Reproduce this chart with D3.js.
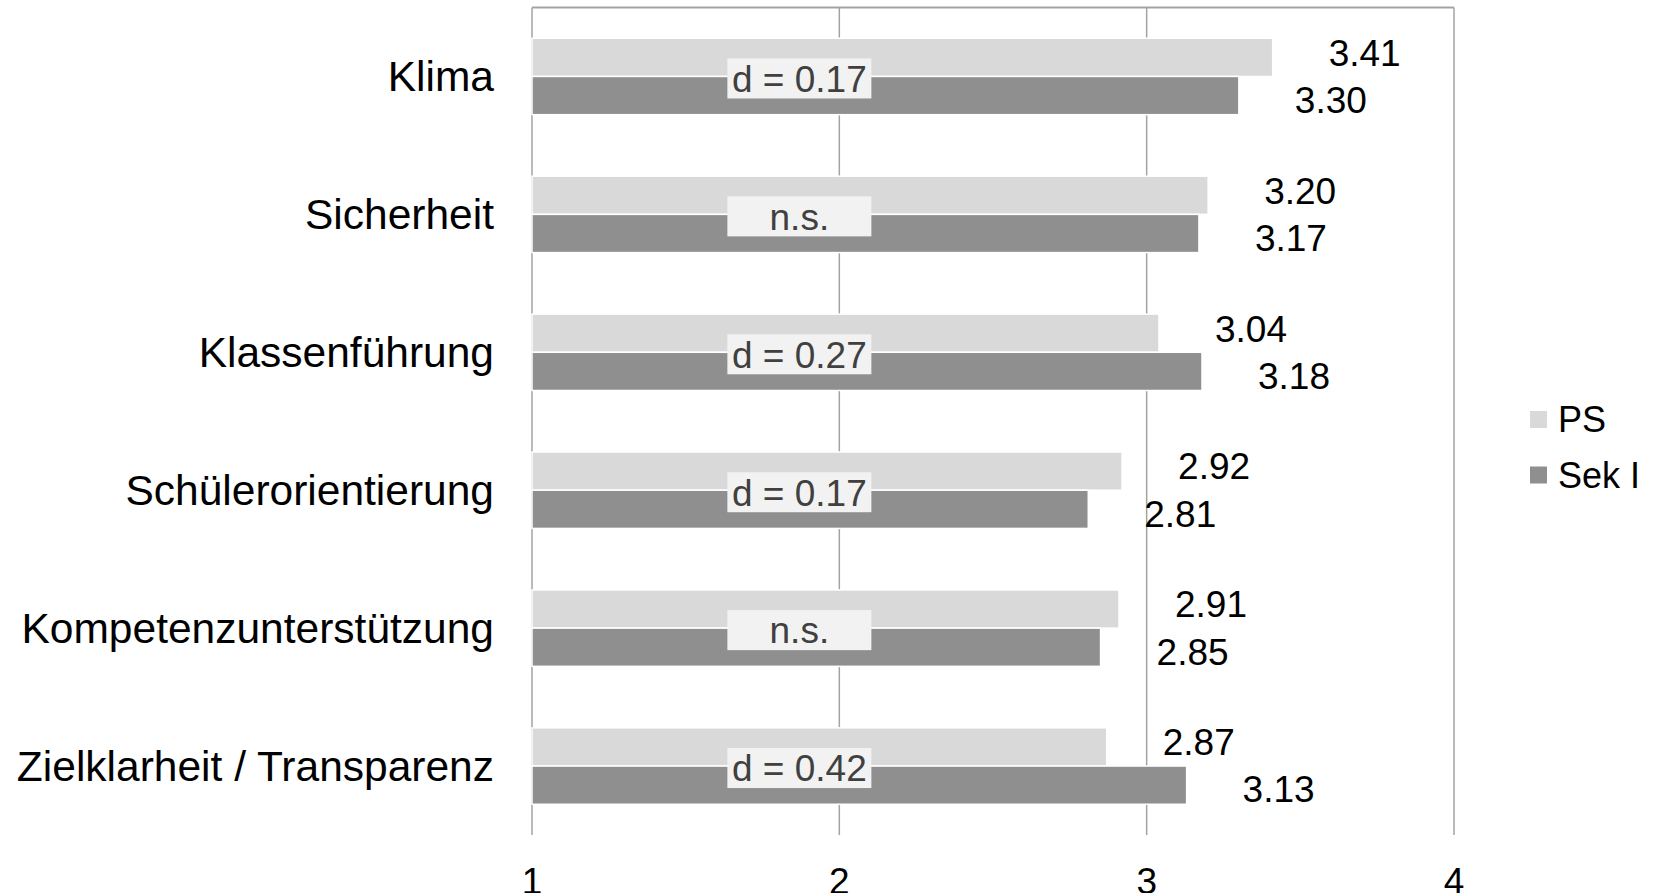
<!DOCTYPE html>
<html>
<head>
<meta charset="utf-8">
<script src="https://cdn.jsdelivr.net/npm/d3@7"></script>
<style>
  body { margin: 0; background: #fff; }
  svg { display: block; font-family: "Liberation Sans", Arial, sans-serif; }
</style>
</head>
<body>
<svg id="chart" width="1654" height="893"></svg>
<script>
// data
var categories = ["Klima", "Sicherheit", "Klassenführung", "Schülerorientierung",
                  "Kompetenzunterstützung", "Zielklarheit / Transparenz"];
var series = ["PS", "Sek I"];
var ps_values = [3.41, 3.20, 3.04, 2.92, 2.91, 2.87];
var sek_values = [3.30, 3.17, 3.18, 2.81, 2.85, 3.13];
var effect_labels = ["d = 0.17", "n.s.", "d = 0.27", "d = 0.17", "n.s.", "d = 0.42"];
var x_ticks = [1, 2, 3, 4];

var colors = {"PS": "#d9d9d9", "Sek I": "#8f8f8f"};
var label_shift = {"PS": -5, "Sek I": 4};
var grid_color = "#a3a3a3";

var svg = d3.select("svg#chart");
var plot_left = 532, plot_right = 1454, plot_top = 7.5, plot_bottom = 835;

var x = d3.scaleLinear().domain([1, 4]).range([plot_left, plot_right]);
var y = d3.scaleBand().domain(categories).range([plot_top, plot_bottom]);
var step = y.bandwidth();
var y1 = d3.scaleBand().domain(series).range([step * 0.223, step * 0.777]);

var rows = categories.map(function(c, i){
    return {cat: c, vals: [ps_values[i], sek_values[i]], eff: effect_labels[i]};
});

// grid
svg.append("g").selectAll("line").data(x_ticks).enter().append("line")
    .attr("x1", function(d){ return x(d); }).attr("x2", function(d){ return x(d); })
    .attr("y1", plot_top).attr("y2", plot_bottom)
    .style("stroke", grid_color).style("stroke-width", "1.5px");
svg.append("line")
    .attr("x1", plot_left).attr("x2", plot_right).attr("y1", plot_top).attr("y2", plot_top)
    .style("stroke", grid_color).style("stroke-width", "2px");

// bars
var groups = svg.append("g").selectAll("g").data(rows).enter().append("g")
    .attr("transform", function(d){ return "translate(0," + y(d.cat) + ")"; });

function pairs(d){
    return series.map(function(s, j){ return {s: s, v: d.vals[j]}; });
}

groups.selectAll("rect.bar").data(pairs).enter().append("rect")
    .attr("class", "bar")
    .attr("x", x(1))
    .attr("y", function(d){ return y1(d.s); })
    .attr("width", function(d){ return x(d.v) - x(1); })
    .attr("height", y1.bandwidth())
    .style("fill", function(d){ return colors[d.s]; })
    .style("stroke", "#fff").style("stroke-width", "1.5px");

// value labels
groups.selectAll("text.val").data(pairs).enter().append("text")
    .attr("class", "val")
    .attr("x", function(d){ return x(d.v) + 56; })
    .attr("y", function(d){ return y1(d.s) + y1.bandwidth() / 2 + label_shift[d.s]; })
    .attr("dy", "0.36em")
    .style("font-size", "37px").style("fill", "#000")
    .text(function(d){ return d.v.toFixed(2); });

// effect size boxes
var box_w = 144, box_h = 40;
groups.append("rect")
    .attr("x", x(1.87) - box_w / 2)
    .attr("y", step / 2 - box_h / 2 + 2)
    .attr("width", box_w).attr("height", box_h)
    .style("fill", "#f2f2f2");
groups.append("text")
    .attr("x", x(1.87)).attr("y", step / 2 + 2).attr("dy", "0.36em")
    .attr("text-anchor", "middle")
    .style("font-size", "37px").style("fill", "#404040")
    .text(function(d){ return d.eff; });

// category labels
groups.append("text")
    .attr("x", 494).attr("y", step / 2).attr("dy", "0.35em")
    .attr("text-anchor", "end")
    .style("font-size", "42.5px").style("fill", "#000")
    .text(function(d){ return d.cat; });

// x tick labels
svg.append("g").selectAll("text").data(x_ticks).enter().append("text")
    .attr("x", function(d){ return x(d); }).attr("y", 894)
    .attr("text-anchor", "middle")
    .style("font-size", "37px").style("fill", "#000")
    .text(function(d){ return d; });

// legend
var legend = svg.append("g").attr("transform", "translate(1530,411)");
var items = legend.selectAll("g").data(series).enter().append("g")
    .attr("transform", function(d, i){ return "translate(0," + (i * 55.5) + ")"; });
items.append("rect").attr("width", 17).attr("height", 17)
    .style("fill", function(d){ return colors[d]; });
items.append("text").attr("x", 28).attr("y", 8.5).attr("dy", "0.36em")
    .style("font-size", "36px").style("fill", "#000")
    .text(function(d){ return d; });
</script>
</body>
</html>
